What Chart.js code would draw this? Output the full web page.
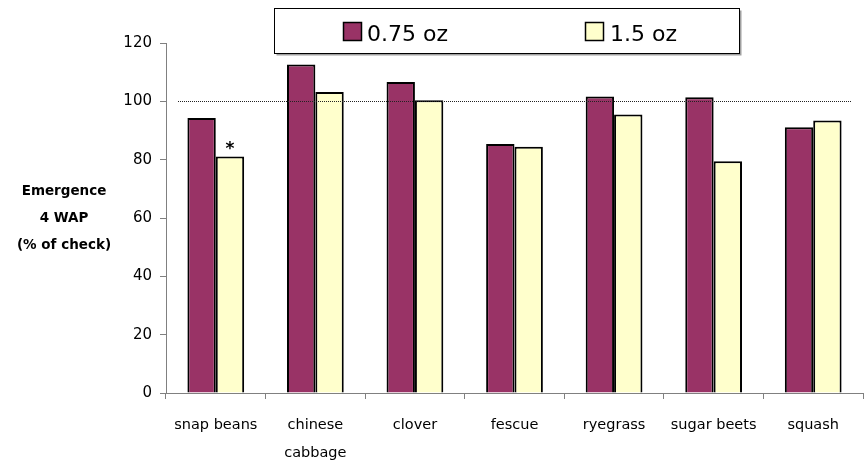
<!DOCTYPE html>
<html>
<head>
<meta charset="utf-8">
<script src="https://cdn.jsdelivr.net/npm/chart.js@4/dist/chart.umd.min.js"></script>
<style>
  html, body { margin: 0; padding: 0; background: #ffffff; }
  #wrap { width: 867px; height: 475px; position: relative; }
</style>
</head>
<body>
<div id="wrap"><canvas id="c" width="867" height="475"></canvas></div>
<script>
// Crops and emergence 4 weeks after planting, as % of the untreated check
const categories = [['snap beans'], ['chinese', 'cabbage'], ['clover'], ['fescue'], ['ryegrass'], ['sugar beets'], ['squash']];
const seriesNames = ['0.75 oz', '1.5 oz'];
const rate075 = [94.3, 112.6, 106.6, 85.4, 101.7, 101.4, 91.1];
const rate150 = [81.1, 103.2, 100.4, 84.4, 95.5, 79.5, 93.4];
const marks150 = ['*', '', '', '', '', '', ''];
const yTicks = [0, 20, 40, 60, 80, 100, 120];
const yTitle = ['Emergence', '4 WAP', '(% of check)'];
const checkLevel = 100;

const FONT = '"Comic Sans MS", "DejaVu Sans", sans-serif';
const seriesColors = ['#993366', '#FFFFCC'];

const decorPlugin = {
  id: 'decor',
  afterDatasetsDraw(chart) {
    const ctx = chart.ctx;
    const area = chart.chartArea;
    const y = chart.scales.y;

    // reference line at the check level
    const yl = Math.round(y.getPixelForValue(checkLevel)) + 0.5;
    ctx.save();
    ctx.strokeStyle = '#222222';
    ctx.lineWidth = 1;
    ctx.setLineDash([1, 1]);
    ctx.beginPath();
    ctx.moveTo(area.left + 12, yl);
    ctx.lineTo(area.right - 11, yl);
    ctx.stroke();
    ctx.restore();

    // significance marks above the 1.5 oz bars
    const meta = chart.getDatasetMeta(1);
    ctx.save();
    ctx.fillStyle = '#000000';
    ctx.font = 'bold 17px ' + FONT;
    ctx.textAlign = 'center';
    ctx.textBaseline = 'middle';
    marks150.forEach((m, i) => {
      if (!m) return;
      const bar = meta.data[i];
      ctx.fillText(m, bar.x, bar.y - 7);
    });
    ctx.restore();
  },
  afterDraw(chart) {
    const ctx = chart.ctx;
    // legend box
    const bx = 274.5, by = 8.5, bw = 465, bh = 45;
    ctx.save();
    ctx.fillStyle = '#a0a0a0';
    ctx.fillRect(bx + 2, by + 2, bw, bh);
    ctx.fillStyle = '#ffffff';
    ctx.fillRect(bx, by, bw, bh);
    ctx.strokeStyle = '#000000';
    ctx.lineWidth = 1;
    ctx.strokeRect(bx, by, bw, bh);

    const items = [{ sx: 343, tx: 367 }, { sx: 585, tx: 610 }];
    ctx.font = '22px ' + FONT;
    ctx.textBaseline = 'alphabetic';
    ctx.textAlign = 'left';
    items.forEach((it, i) => {
      ctx.fillStyle = seriesColors[i];
      ctx.fillRect(it.sx + 0.5, 22.5, 18, 18);
      ctx.strokeStyle = '#000000';
      ctx.lineWidth = 1.5;
      ctx.strokeRect(it.sx + 0.5, 22.5, 18, 18);
      ctx.fillStyle = '#000000';
      ctx.fillText(seriesNames[i], it.tx, 40.5);
    });

    // y axis title, three stacked lines
    ctx.font = 'bold 13.5px ' + FONT;
    ctx.textAlign = 'center';
    ctx.textBaseline = 'middle';
    const ys = [191, 218, 245];
    yTitle.forEach((t, i) => ctx.fillText(t, 64, ys[i]));
    ctx.restore();
  }
};

new Chart(document.getElementById('c'), {
  type: 'bar',
  data: {
    labels: categories,
    datasets: [
      {
        label: seriesNames[0],
        data: rate075,
        backgroundColor: seriesColors[0],
        borderColor: '#000000',
        borderWidth: 2,
        categoryPercentage: 0.57,
        barPercentage: 1.0
      },
      {
        label: seriesNames[1],
        data: rate150,
        backgroundColor: seriesColors[1],
        borderColor: '#000000',
        borderWidth: 2,
        categoryPercentage: 0.57,
        barPercentage: 1.0
      }
    ]
  },
  options: {
    responsive: false,
    animation: false,
    layout: { padding: { left: 0, right: 4, top: 43, bottom: 0 } },
    plugins: {
      legend: { display: false },
      tooltip: { enabled: false },
      title: { display: false }
    },
    scales: {
      x: {
        offset: true,
        grid: { offset: true, drawOnChartArea: false, drawTicks: true, tickLength: 6, color: '#808080' },
        border: { display: true, color: '#808080', width: 1 },
        ticks: {
          color: '#000000',
          font: { family: FONT, size: 14.5, lineHeight: 1.89 },
          padding: 13,
          maxRotation: 0,
          autoSkip: false
        },
        afterFit(s) { s.height = 82; }
      },
      y: {
        min: yTicks[0],
        max: yTicks[yTicks.length - 1],
        afterBuildTicks(s) { s.ticks = yTicks.map(v => ({ value: v })); },
        grid: { drawOnChartArea: false, drawTicks: true, tickLength: 6, color: '#808080' },
        border: { display: true, color: '#808080', width: 1 },
        ticks: {
          color: '#000000',
          font: { family: FONT, size: 15, lineHeight: 1.2 },
          padding: 8
        },
        afterFit(s) { s.width = 166; }
      }
    }
  },
  plugins: [decorPlugin]
});
</script>
</body>
</html>
